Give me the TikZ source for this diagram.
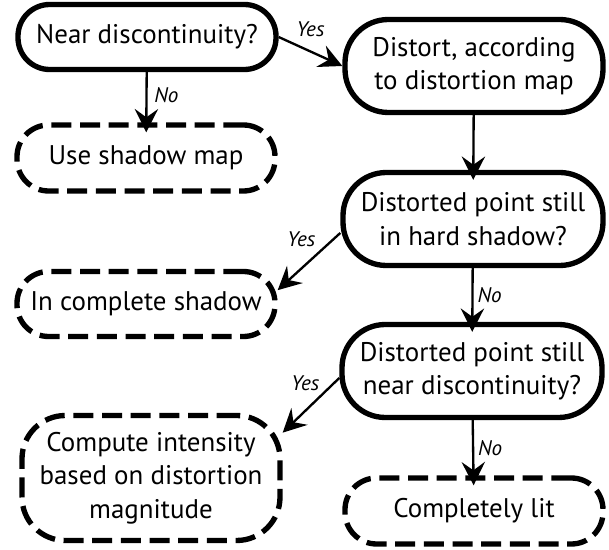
\documentclass[tikz,border=0pt]{standalone}
\usepackage{fontspec}
\setmainfont{PT Sans}
\usetikzlibrary{arrows.meta}
\begin{document}
\begin{tikzpicture}[x=0.3mm,y=-0.3mm,
    question/.style={draw, line width=1.6mm, rounded corners=9.5mm, align=center,
      inner sep=0pt, font=\fontsize{23}{28.5}\selectfont},
    tall/.style={rounded corners=13mm},
    outcome/.style={question, dash pattern=on 6mm off 2.6mm},
    flow/.style={-{Stealth[length=7mm,width=7mm,inset=2.5mm]}, line width=0.7mm},
    overlap/.style={shorten >=-3mm},
    answer/.style={font=\itshape\fontsize{18}{20}\selectfont}]
  \useasboundingbox (0,0) rectangle (609,550);
  \node[question, minimum width=77.4mm, minimum height=19.5mm] (nearDisc) at (147,37) {Near discontinuity?};
  \node[outcome, minimum width=77.4mm, minimum height=19.8mm] (shadowMap) at (146,158) {Use shadow map};
  \node[question, tall, minimum width=77.4mm, minimum height=27.9mm] (distort) at (474,66) {Distort, according\\to distortion map};
  \node[question, tall, minimum width=78mm, minimum height=27.9mm] (hardShadow) at (473,219) {Distorted point still\\in hard shadow?};
  \node[outcome, minimum width=77.4mm, minimum height=19.5mm] (fullShadow) at (146,304) {In complete shadow};
  \node[question, tall, minimum width=78mm, minimum height=27.9mm] (stillNear) at (472,371) {Distorted point still\\near discontinuity?};
  \node[outcome, tall, minimum width=77.4mm, minimum height=37.5mm] (intensity) at (151,478) {Compute intensity\\based on distortion\\magnitude};
  \node[outcome, minimum width=77.4mm, minimum height=19.8mm] (lit) at (474,511) {Completely lit};
  \draw[flow] (nearDisc.east) -- node[answer, above=2.8mm] {Yes} (distort.west);
  \draw[flow, overlap] (nearDisc) -- node[answer, pos=0.45, right=0.8mm] {No} (shadowMap);
  \draw[flow, overlap] (distort) -- (hardShadow);
  \draw[flow] (hardShadow.186) -- node[answer, at start, left=6mm, yshift=-2mm] {Yes} (fullShadow.6);
  \draw[flow, overlap] (hardShadow) -- node[answer, right=0mm] {No} (stillNear);
  \draw[flow] (stillNear.183) -- node[answer, at start, left=4.5mm, yshift=-1.5mm] {Yes} (intensity.19);
  \draw[flow, overlap] (stillNear) -- node[answer, right=0mm] {No} (lit);
\end{tikzpicture}
\end{document}
